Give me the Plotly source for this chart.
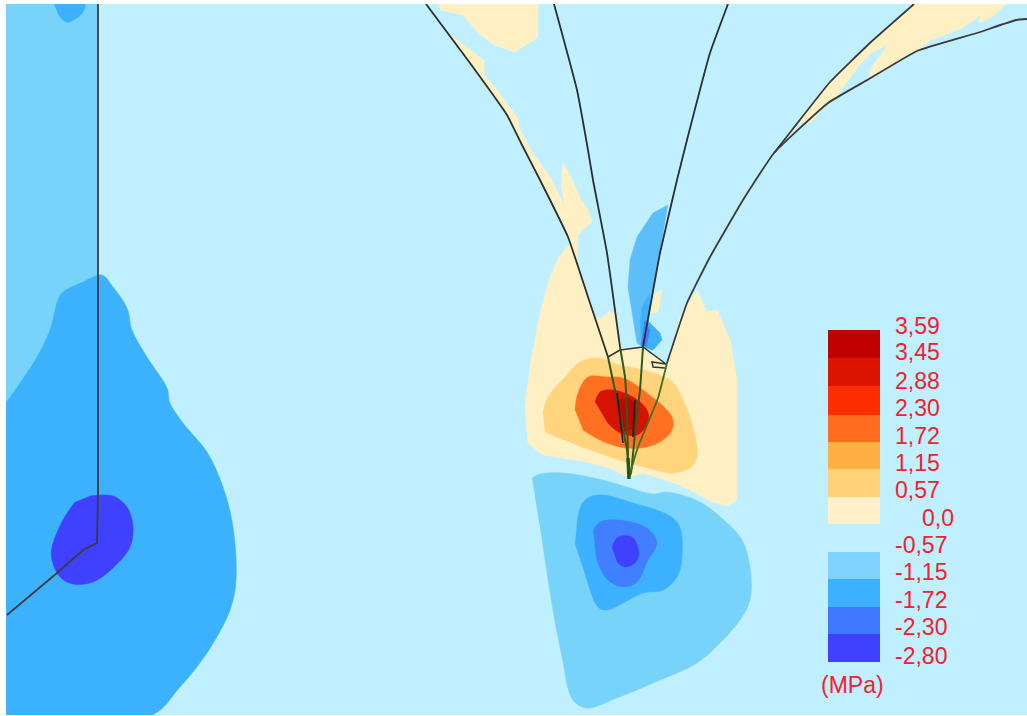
import plotly.graph_objects as go

# Stress scale
scale_labels = ["3,59", "3,45", "2,88", "2,30", "1,72", "1,15", "0,57", "0,0", "-0,57", "-1,15", "-1,72", "-2,30", "-2,80"]
scale_label_y = [326, 352, 381, 408, 436, 463, 490, 518, 545, 572, 600, 627, 656]
scale_edges = [330, 358, 386, 415, 442, 469, 497, 524, 552, 579, 607, 634, 662]
scale_colors = ["#c00000", "#dc1400", "#ff2c00", "#ff6c1e", "#ffb040", "#ffd27a", "#fff0c8", None,
                "#80d2ff", "#3cb0ff", "#4078ff", "#4040ff"]
unit = "(MPa)"

BG = "#c0f0ff"
CREAM = "#fff0c4"
PALE_OR = "#ffd47c"
ORANGE = "#ff7020"
RED = "#d41400"
DEEP = "#bc0800"
LBLUE = "#78d3fa"
MBLUE = "#3cb2ff"
BLUE3 = "#4080ff"
BLUE4 = "#4040ff"
STREAK = "#5cbffa"

# Contour zones, (x, y) in picture units
left_light = [(6, 4), (98, 4), (98, 285), (6, 410)]
left_top_blob = [(54, 4), (85, 4), (83, 12), (74, 20), (66, 22), (58, 14)]
left_mid = [(6, 403), (20, 383), (37, 357), (50, 330), (58, 300), (63, 292), (83, 282), (102, 275), (113, 287),
            (127, 308), (132, 330), (147, 357), (167, 388), (170, 403), (183, 423), (207, 452), (223, 487),
            (233, 527), (236, 580), (230, 610), (207, 653), (180, 687), (150, 716), (6, 716)]
left_dark = [(90, 496), (113, 496), (127, 507), (133, 527), (130, 547), (113, 568), (93, 582), (73, 584), (60, 577),
             (52, 560), (52, 547), (63, 520), (75, 502)]

top_cream = [(439, 4), (441, 10), (463, 15), (478, 33), (494, 45), (515, 52), (538, 37), (538, 4)]
strip_cream = [(451, 35), (470, 63), (507, 115), (521, 143), (540, 180), (552, 200), (568, 237), (577, 262),
               (578, 234), (592, 222), (588, 210), (581, 200), (570, 175), (563, 163), (561, 185), (565, 207),
               (552, 180), (532, 152), (519, 128), (517, 117), (497, 90), (484, 75), (484, 60)]
main_cream = [(560, 255), (550, 277), (540, 313), (530, 367), (525, 407), (528, 443), (543, 455), (577, 460),
              (610, 468), (628, 477), (643, 473), (680, 485), (713, 502), (727, 506), (737, 500), (737, 380),
              (730, 340), (717, 310), (707, 312), (697, 290), (680, 317), (667, 365), (655, 357), (643, 348),
              (620, 348), (615, 313), (608, 312), (602, 318), (595, 318), (588, 297), (570, 243)]
sliver_cream = [(655, 293), (662, 290), (658, 312), (650, 313)]
right_cream = [(776, 153), (792, 130), (830, 82), (871, 42), (914, 4), (1006, 4), (991, 18), (979, 23), (981, 15),
               (962, 28), (931, 40), (917, 51), (869, 79), (871, 68), (888, 45), (871, 53), (857, 68), (836, 97),
               (824, 107), (811, 122), (801, 122), (788, 137), (778, 150)]

pale_zone = [(543, 413), (548, 397), (565, 377), (580, 362), (597, 358), (620, 365), (643, 370), (670, 380),
             (680, 393), (693, 427), (697, 457), (690, 468), (673, 473), (637, 465), (610, 457), (577, 445),
             (545, 432)]
orange_zone = [(575, 410), (578, 393), (588, 377), (607, 377), (623, 378), (647, 393), (672, 417), (672, 430),
               (660, 442), (640, 448), (620, 447), (600, 440), (583, 430)]
red_zone = [(595, 402), (600, 392), (613, 390), (633, 397), (647, 410), (648, 423), (637, 435), (620, 433), (607, 422)]
deep_zone = [(617, 400), (632, 400), (636, 425), (622, 432)]

streak_light = [(668, 205), (653, 213), (637, 237), (630, 260), (628, 287), (633, 320), (637, 343), (643, 347), (660, 253)]
streak_mid = [(650, 293), (642, 307), (640, 327), (643, 347), (648, 322)]
streak_patch = [(647, 320), (660, 333), (662, 340), (653, 350), (645, 348)]
streak_blue3 = [(645, 320), (641, 345), (646, 347), (650, 330)]

low_light = [(532, 478), (540, 474), (563, 473), (603, 480), (630, 488), (653, 494), (667, 492), (700, 502), (727, 523),
             (742, 540), (750, 567), (750, 600), (740, 620), (720, 643), (697, 663), (653, 683), (617, 698), (587, 708),
             (573, 700), (562, 657), (553, 610), (542, 540)]
low_mid = [(577, 523), (583, 502), (597, 495), (630, 502), (677, 522), (682, 558), (677, 577), (663, 590), (643, 593),
           (607, 610), (598, 607), (583, 567), (575, 543)]
low_blue3 = [(593, 530), (600, 522), (617, 520), (647, 528), (657, 543), (648, 560), (637, 582), (623, 587), (608, 580),
             (598, 563), (595, 547)]
low_dark = [(612, 548), (618, 537), (632, 537), (639, 553), (635, 563), (625, 567), (617, 562)]

# Structure outlines
line_a = [(426, 4), (470, 63), (507, 115), (521, 143), (540, 180), (568, 237), (588, 297), (608, 357)]
line_b = [(554, 4), (577, 90), (588, 150), (593, 180), (607, 253), (620, 347)]
line_c = [(728, 4), (710, 53), (687, 140), (677, 180), (660, 253), (643, 347)]
line_d = [(667, 363), (687, 303), (710, 257), (743, 200), (774, 153), (828, 103), (869, 79), (917, 51), (977, 33),
          (1016, 20), (1027, 19)]
line_d2 = [(774, 153), (792, 130), (830, 82), (871, 42), (914, 4)]
top_bar = [(608, 357), (620, 350), (643, 347), (666, 364), (652, 362), (653, 367), (665, 368)]
green_a = [(608, 357), (617, 400), (627, 450), (629, 477)]
green_b = [(620, 347), (625, 377), (627, 413), (628, 457), (629, 477)]
green_c = [(643, 347), (640, 390), (635, 433), (631, 473), (629, 477)]
green_d = [(667, 363), (658, 398), (638, 447), (629, 477)]
black_a = [(617, 393), (623, 443)]
black_c = [(635, 400), (633, 437)]
tip = [(628, 458), (629, 479)]
line_left = [(98, 4), (98, 260), (98, 493), (97, 543), (83, 550), (57, 573), (7, 615)]

zones = [
    (left_light, LBLUE, False), (left_top_blob, MBLUE, True), (left_mid, MBLUE, True), (left_dark, BLUE4, True),
    (top_cream, CREAM, False), (strip_cream, CREAM, False), (main_cream, CREAM, False), (sliver_cream, CREAM, False),
    (right_cream, CREAM, False),
    (pale_zone, PALE_OR, True), (orange_zone, ORANGE, True), (red_zone, RED, True), (deep_zone, DEEP, True),
    (streak_light, STREAK, False), (streak_mid, MBLUE, False), (streak_patch, MBLUE, False), (streak_blue3, BLUE3, False),
    (low_light, LBLUE, True), (low_mid, MBLUE, True), (low_blue3, BLUE3, True), (low_dark, BLUE4, True),
]
outlines = [
    (line_a, "#2e2e2e", 1.8, True), (line_b, "#2e2e2e", 1.8, True), (line_c, "#2e2e2e", 1.8, True),
    (line_d, "#3a3a3a", 1.8, True), (line_d2, "#3a3a3a", 1.8, True), (top_bar, "#333333", 1.5, False),
    (line_left, "#3c3c3c", 1.8, False),
    (green_a, "#2f5a20", 2, True), (green_b, "#2f5a20", 2, True), (green_c, "#2f5a20", 2, True),
    (green_d, "#3c7028", 1.8, True), (black_a, "#202010", 1.6, False), (black_c, "#202010", 1.6, False),
    (tip, "#1c5a1c", 3.5, False),
]

fig = go.Figure()
for pts, col, smooth in zones:
    fig.add_trace(go.Scatter(
        x=[p[0] for p in pts], y=[p[1] for p in pts], mode="lines", fill="toself", fillcolor=col,
        line=dict(width=0.5, color=col, shape="spline" if smooth else "linear", smoothing=1.0),
        hoverinfo="skip", showlegend=False))
for pts, col, w, smooth in outlines:
    fig.add_trace(go.Scatter(
        x=[p[0] for p in pts], y=[p[1] for p in pts], mode="lines",
        line=dict(width=w, color=col, shape="spline" if smooth else "linear", smoothing=0.35),
        hoverinfo="skip", showlegend=False))

# Colour scale
for i, col in enumerate(scale_colors):
    if col:
        fig.add_trace(go.Scatter(
            x=[828, 880, 880, 828], y=[scale_edges[i], scale_edges[i], scale_edges[i + 1], scale_edges[i + 1]],
            mode="lines", fill="toself", fillcolor=col, line=dict(width=0), hoverinfo="skip", showlegend=False))

annotations = []
for lab, y in zip(scale_labels, scale_label_y):
    annotations.append(dict(x=920 if lab == "0,0" else 893, y=y, text=lab, showarrow=False, xanchor="left",
                            yanchor="middle", font=dict(family="Liberation Sans", size=23, color="#f4202c")))
annotations.append(dict(x=852, y=685, text=unit, showarrow=False, xanchor="center", yanchor="middle",
                        font=dict(family="Liberation Sans", size=23, color="#f4202c")))

fig.update_layout(
    width=1027, height=716, margin=dict(l=6, r=0, t=4, b=1), paper_bgcolor="white", plot_bgcolor=BG,
    annotations=annotations,
    xaxis=dict(range=[6, 1027], visible=False, fixedrange=True),
    yaxis=dict(range=[715, 4], visible=False, fixedrange=True),
)
fig.write_html("out.html", config={"displayModeBar": False}, post_script="document.body.style.margin='0';")
